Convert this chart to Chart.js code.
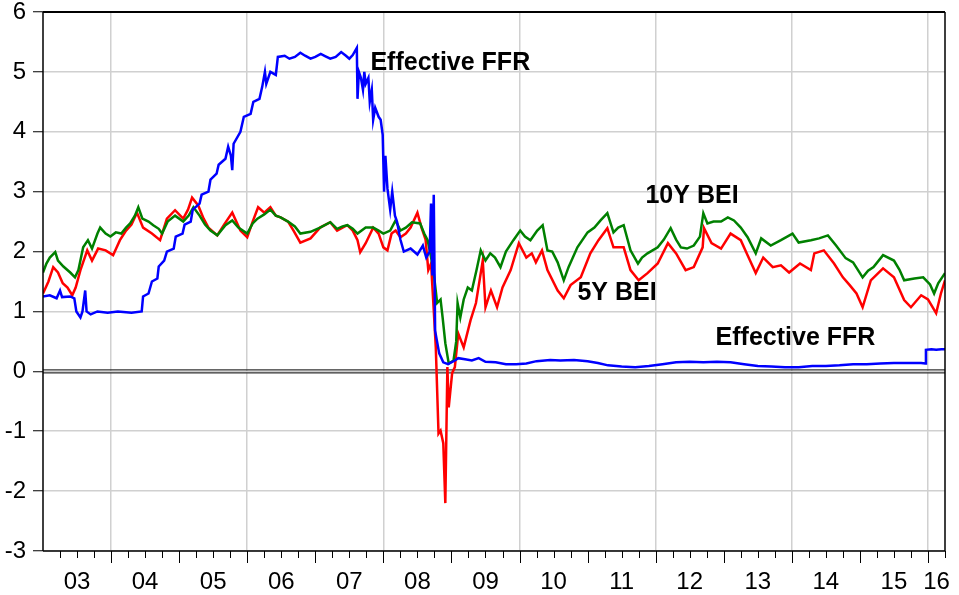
<!DOCTYPE html>
<html>
<head>
<meta charset="utf-8">
<script src="https://cdn.jsdelivr.net/npm/chart.js@4.4.1/dist/chart.umd.min.js"></script>
<style>
  html, body { margin: 0; padding: 0; background: #fff; }
  #wrap { width: 959px; height: 595px; position: relative; }
</style>
</head>
<body>
<div id="wrap"><canvas id="chart"></canvas></div>
<script>
// year labels under the x axis (centred on each year)
const yearLabels = ['03', '04', '05', '06', '07', '08', '09', '10', '11', '12', '13', '14', '15', '16'];
const firstYear = 2003;
const lastDate = 2016.25;

// effective fed funds rate, [decimal year, percent]
const ffr = [
    [2003.00, 1.25], [2003.10, 1.27], [2003.20, 1.22], [2003.25, 1.35], [2003.28, 1.24], [2003.40, 1.25],
    [2003.46, 1.22], [2003.49, 1.00], [2003.55, 0.90], [2003.58, 1.00], [2003.62, 1.35], [2003.64, 1.00],
    [2003.70, 0.95], [2003.80, 1.00], [2003.95, 0.98], [2004.10, 1.00], [2004.30, 0.98], [2004.45, 1.00],
    [2004.47, 1.25], [2004.55, 1.30], [2004.60, 1.50], [2004.68, 1.55], [2004.70, 1.75], [2004.78, 1.85],
    [2004.82, 2.00], [2004.92, 2.05], [2004.95, 2.25], [2005.05, 2.30], [2005.08, 2.45], [2005.17, 2.50],
    [2005.20, 2.70], [2005.30, 2.80], [2005.33, 2.95], [2005.43, 3.00], [2005.46, 3.20], [2005.55, 3.30],
    [2005.58, 3.45], [2005.68, 3.55], [2005.72, 3.75], [2005.76, 3.60], [2005.78, 3.36], [2005.80, 3.80],
    [2005.90, 4.00], [2005.95, 4.25], [2006.05, 4.30], [2006.09, 4.50], [2006.18, 4.55], [2006.22, 4.75],
    [2006.26, 5.00], [2006.28, 4.80], [2006.34, 5.00], [2006.42, 4.95], [2006.45, 5.25], [2006.55, 5.27],
    [2006.62, 5.22], [2006.70, 5.25], [2006.78, 5.32], [2006.85, 5.27], [2006.93, 5.22], [2007.00, 5.25],
    [2007.08, 5.30], [2007.15, 5.26], [2007.22, 5.22], [2007.30, 5.25], [2007.38, 5.33], [2007.45, 5.27],
    [2007.50, 5.22], [2007.55, 5.28], [2007.61, 5.40], [2007.62, 4.55], [2007.64, 5.00], [2007.67, 4.90],
    [2007.70, 4.70], [2007.72, 5.00], [2007.74, 4.80], [2007.78, 4.90], [2007.80, 4.50], [2007.83, 4.70],
    [2007.85, 4.20], [2007.88, 4.40], [2007.93, 4.25], [2007.96, 4.20], [2007.99, 3.95], [2008.01, 3.00],
    [2008.03, 3.60], [2008.06, 3.05], [2008.10, 2.70], [2008.13, 3.00], [2008.17, 2.60], [2008.20, 2.50],
    [2008.25, 2.20], [2008.30, 2.00], [2008.40, 2.05], [2008.50, 1.95], [2008.58, 2.10], [2008.63, 1.90],
    [2008.68, 2.00], [2008.70, 2.80], [2008.72, 1.60], [2008.74, 2.95], [2008.76, 0.68], [2008.78, 0.55],
    [2008.82, 0.30], [2008.88, 0.15], [2008.95, 0.12], [2009.05, 0.18], [2009.10, 0.22], [2009.20, 0.20],
    [2009.30, 0.18], [2009.40, 0.22], [2009.50, 0.16], [2009.65, 0.15], [2009.80, 0.12], [2009.95, 0.12],
    [2010.10, 0.13], [2010.25, 0.17], [2010.45, 0.19], [2010.60, 0.18], [2010.80, 0.19], [2011.00, 0.17],
    [2011.15, 0.14], [2011.30, 0.10], [2011.50, 0.08], [2011.70, 0.07], [2011.90, 0.09], [2012.10, 0.12],
    [2012.30, 0.15], [2012.50, 0.16], [2012.70, 0.15], [2012.90, 0.16], [2013.10, 0.15], [2013.30, 0.12],
    [2013.50, 0.09], [2013.70, 0.08], [2013.90, 0.07], [2014.10, 0.07], [2014.30, 0.09], [2014.50, 0.09],
    [2014.70, 0.10], [2014.90, 0.12], [2015.10, 0.12], [2015.30, 0.13], [2015.50, 0.14], [2015.70, 0.14],
    [2015.90, 0.14], [2015.96, 0.13], [2015.97, 0.36], [2016.05, 0.37], [2016.12, 0.36], [2016.20, 0.37],
    [2016.25, 0.37]
];

// 10 year breakeven inflation
const bei10 = [
    [2003.00, 1.65], [2003.05, 1.80], [2003.10, 1.90], [2003.18, 1.99], [2003.22, 1.85], [2003.30, 1.75],
    [2003.40, 1.65], [2003.47, 1.57], [2003.52, 1.69], [2003.59, 2.07], [2003.66, 2.19], [2003.72, 2.05],
    [2003.80, 2.30], [2003.84, 2.40], [2003.92, 2.30], [2003.99, 2.25], [2004.07, 2.32], [2004.15, 2.30],
    [2004.22, 2.40], [2004.28, 2.47], [2004.35, 2.60], [2004.40, 2.74], [2004.46, 2.55], [2004.55, 2.50],
    [2004.62, 2.44], [2004.70, 2.38], [2004.75, 2.30], [2004.83, 2.50], [2004.94, 2.60], [2005.06, 2.50],
    [2005.14, 2.60], [2005.21, 2.74], [2005.30, 2.60], [2005.38, 2.45], [2005.46, 2.35], [2005.56, 2.27],
    [2005.68, 2.44], [2005.78, 2.52], [2005.87, 2.40], [2006.00, 2.30], [2006.08, 2.47], [2006.15, 2.55],
    [2006.25, 2.62], [2006.34, 2.70], [2006.42, 2.60], [2006.49, 2.57], [2006.60, 2.50], [2006.70, 2.42],
    [2006.78, 2.30], [2006.93, 2.33], [2007.07, 2.40], [2007.22, 2.49], [2007.32, 2.38], [2007.40, 2.42],
    [2007.47, 2.44], [2007.55, 2.38], [2007.62, 2.30], [2007.74, 2.40], [2007.85, 2.40], [2007.93, 2.35],
    [2008.00, 2.30], [2008.10, 2.35], [2008.18, 2.52], [2008.25, 2.35], [2008.33, 2.40], [2008.42, 2.49],
    [2008.54, 2.47], [2008.60, 2.30], [2008.65, 2.19], [2008.69, 1.97], [2008.74, 1.64], [2008.79, 1.14],
    [2008.84, 1.20], [2008.87, 0.90], [2008.91, 0.47], [2008.96, 0.13], [2009.03, 0.18], [2009.07, 0.50],
    [2009.09, 1.14], [2009.13, 0.90], [2009.18, 1.20], [2009.24, 1.40], [2009.30, 1.35], [2009.37, 1.70],
    [2009.43, 2.02], [2009.50, 1.85], [2009.57, 1.97], [2009.64, 1.90], [2009.72, 1.74], [2009.80, 2.00],
    [2009.91, 2.19], [2010.01, 2.35], [2010.08, 2.25], [2010.16, 2.19], [2010.26, 2.35], [2010.34, 2.44],
    [2010.41, 2.02], [2010.48, 2.00], [2010.56, 1.82], [2010.65, 1.52], [2010.72, 1.74], [2010.85, 2.07],
    [2011.00, 2.32], [2011.10, 2.40], [2011.19, 2.52], [2011.29, 2.64], [2011.38, 2.32], [2011.45, 2.40],
    [2011.53, 2.44], [2011.63, 2.02], [2011.74, 1.80], [2011.80, 1.90], [2011.88, 1.97], [2012.03, 2.07],
    [2012.12, 2.20], [2012.22, 2.39], [2012.30, 2.20], [2012.37, 2.07], [2012.46, 2.05], [2012.56, 2.10],
    [2012.65, 2.25], [2012.70, 2.64], [2012.76, 2.47], [2012.85, 2.50], [2012.96, 2.50], [2013.06, 2.57],
    [2013.15, 2.52], [2013.25, 2.40], [2013.35, 2.24], [2013.47, 1.97], [2013.55, 2.22], [2013.69, 2.10],
    [2013.84, 2.19], [2014.01, 2.30], [2014.10, 2.15], [2014.28, 2.19], [2014.40, 2.22], [2014.53, 2.27],
    [2014.65, 2.10], [2014.79, 1.89], [2014.90, 1.82], [2015.04, 1.57], [2015.12, 1.68], [2015.20, 1.74],
    [2015.34, 1.94], [2015.50, 1.85], [2015.58, 1.70], [2015.65, 1.52], [2015.80, 1.55], [2015.93, 1.57],
    [2016.03, 1.45], [2016.09, 1.30], [2016.15, 1.47], [2016.25, 1.64]
];

// 5 year breakeven inflation
const bei5 = [
    [2003.00, 1.30], [2003.08, 1.50], [2003.15, 1.74], [2003.22, 1.65], [2003.29, 1.47], [2003.36, 1.40],
    [2003.43, 1.27], [2003.48, 1.40], [2003.55, 1.69], [2003.65, 2.02], [2003.72, 1.85], [2003.81, 2.05],
    [2003.92, 2.02], [2004.03, 1.94], [2004.13, 2.19], [2004.22, 2.35], [2004.30, 2.45], [2004.38, 2.65],
    [2004.47, 2.40], [2004.60, 2.30], [2004.72, 2.19], [2004.82, 2.55], [2004.94, 2.69], [2005.06, 2.55],
    [2005.13, 2.70], [2005.19, 2.90], [2005.28, 2.77], [2005.36, 2.55], [2005.43, 2.40], [2005.56, 2.27],
    [2005.66, 2.45], [2005.78, 2.65], [2005.90, 2.35], [2006.00, 2.24], [2006.08, 2.50], [2006.16, 2.74],
    [2006.25, 2.65], [2006.34, 2.74], [2006.42, 2.60], [2006.49, 2.57], [2006.60, 2.50], [2006.68, 2.35],
    [2006.78, 2.15], [2006.93, 2.22], [2007.07, 2.40], [2007.22, 2.49], [2007.32, 2.35], [2007.40, 2.40],
    [2007.47, 2.44], [2007.55, 2.35], [2007.62, 2.19], [2007.66, 1.99], [2007.74, 2.14], [2007.85, 2.40],
    [2007.93, 2.30], [2008.00, 2.07], [2008.06, 2.02], [2008.12, 2.30], [2008.18, 2.35], [2008.25, 2.24],
    [2008.33, 2.30], [2008.40, 2.40], [2008.50, 2.65], [2008.56, 2.40], [2008.62, 2.20], [2008.66, 1.69],
    [2008.70, 1.80], [2008.74, 1.02], [2008.77, 0.40], [2008.81, -1.04], [2008.84, -0.99], [2008.88, -1.20],
    [2008.91, -2.20], [2008.94, 0.07], [2008.96, -0.60], [2009.01, -0.03], [2009.05, 0.07], [2009.10, 0.63],
    [2009.18, 0.40], [2009.28, 0.85], [2009.36, 1.14], [2009.46, 1.85], [2009.50, 1.07], [2009.58, 1.35],
    [2009.67, 1.07], [2009.75, 1.40], [2009.87, 1.69], [2009.99, 2.14], [2010.10, 1.90], [2010.18, 1.97],
    [2010.24, 1.82], [2010.33, 2.02], [2010.41, 1.69], [2010.56, 1.35], [2010.65, 1.22], [2010.75, 1.44],
    [2010.90, 1.57], [2011.04, 1.97], [2011.16, 2.19], [2011.29, 2.39], [2011.38, 2.07], [2011.53, 2.07],
    [2011.63, 1.69], [2011.75, 1.52], [2011.88, 1.64], [2012.03, 1.80], [2012.18, 2.14], [2012.30, 1.97],
    [2012.44, 1.69], [2012.56, 1.74], [2012.69, 2.07], [2012.71, 2.39], [2012.82, 2.14], [2012.96, 2.05],
    [2013.10, 2.30], [2013.25, 2.19], [2013.35, 1.94], [2013.47, 1.64], [2013.58, 1.90], [2013.72, 1.74],
    [2013.84, 1.77], [2013.96, 1.65], [2014.12, 1.80], [2014.28, 1.69], [2014.33, 1.97], [2014.47, 2.02],
    [2014.62, 1.80], [2014.75, 1.57], [2014.85, 1.44], [2014.95, 1.30], [2015.04, 1.07], [2015.16, 1.52],
    [2015.34, 1.72], [2015.50, 1.57], [2015.65, 1.19], [2015.75, 1.07], [2015.90, 1.27], [2016.00, 1.20],
    [2016.12, 0.97], [2016.19, 1.30], [2016.25, 1.52]
];

// text labels drawn inside the plot
const seriesLabels = [
    { text: 'Effective FFR', x: 2007.81, y: 5.15 },
    { text: '10Y BEI', x: 2011.85, y: 2.92 },
    { text: '5Y BEI', x: 2010.85, y: 1.30 },
    { text: 'Effective FFR', x: 2012.88, y: 0.55 }
];

const toPoints = arr => arr.map(p => ({ x: p[0], y: p[1] }));
const FONT = '"Liberation Sans", Arial, Helvetica, sans-serif';

// zero line, frame, year ticks/labels and the series names
const eviewsStyle = {
    id: 'eviewsStyle',
    beforeDatasetsDraw(chart) {
        const { ctx, chartArea: a, scales: { y } } = chart;
        const y0 = y.getPixelForValue(0);
        ctx.save();
        ctx.strokeStyle = '#333';
        ctx.lineWidth = 1.2;
        [y0 - 1.5, y0 + 1.5].forEach(yy => {
            ctx.beginPath();
            ctx.moveTo(a.left, yy);
            ctx.lineTo(a.right, yy);
            ctx.stroke();
        });
        ctx.restore();
    },
    afterDraw(chart) {
        const { ctx, chartArea: a, scales: { x, y } } = chart;
        ctx.save();

        // frame
        ctx.strokeStyle = '#000';
        ctx.lineWidth = 2;
        ctx.beginPath();
        ctx.moveTo(a.left, a.top);
        ctx.lineTo(a.right, a.top);
        ctx.stroke();
        ctx.lineWidth = 1.5;
        ctx.beginPath();
        ctx.moveTo(a.right, a.top);
        ctx.lineTo(a.right, a.bottom);
        ctx.moveTo(a.left, a.bottom);
        ctx.lineTo(a.right, a.bottom);
        ctx.moveTo(a.left, a.top);
        ctx.lineTo(a.left, a.bottom);
        ctx.stroke();

        // quarterly ticks below the axis
        ctx.lineWidth = 1;
        for (let t = firstYear + 0.25; t <= lastDate + 1e-6; t += 0.25) {
            const px = Math.round(x.getPixelForValue(t)) + 0.5;
            const major = Math.abs(t - Math.round(t)) < 1e-6;
            ctx.beginPath();
            ctx.moveTo(px, a.bottom);
            ctx.lineTo(px, a.bottom + (major ? 12 : 7));
            ctx.stroke();
        }

        // year labels
        ctx.fillStyle = '#000';
        ctx.font = '24px ' + FONT;
        ctx.textAlign = 'center';
        ctx.textBaseline = 'middle';
        yearLabels.forEach((lab, i) => {
            const start = firstYear + i;
            const mid = (start + Math.min(start + 1, lastDate)) / 2;
            ctx.fillText(lab, x.getPixelForValue(mid), 582);
        });

        // series names
        ctx.font = 'bold 25px ' + FONT;
        ctx.textAlign = 'left';
        seriesLabels.forEach(l => {
            ctx.fillText(l.text, x.getPixelForValue(l.x), y.getPixelForValue(l.y));
        });
        ctx.restore();
    }
};

const chart = document.querySelector('#chart').getContext('2d');

new Chart(chart, {
    type: 'line',
    data: {
        datasets: [
            {
                label: 'Effective FFR',
                data: toPoints(ffr),
                borderColor: '#0000ff',
                borderWidth: 2.5,
                order: 1
            },
            {
                label: '10Y BEI',
                data: toPoints(bei10),
                borderColor: '#008000',
                borderWidth: 2.5,
                order: 2
            },
            {
                label: '5Y BEI',
                data: toPoints(bei5),
                borderColor: '#ff0000',
                borderWidth: 2.5,
                order: 3
            }
        ]
    },
    plugins: [eviewsStyle],
    options: {
        responsive: true,
        maintainAspectRatio: false,
        animation: false,
        elements: { point: { radius: 0 }, line: { tension: 0 } },
        layout: { padding: { top: 12, right: 14, bottom: 44, left: 0 } },
        plugins: {
            legend: { display: false },
            tooltip: { enabled: false }
        },
        scales: {
            x: {
                type: 'linear',
                min: firstYear,
                max: lastDate,
                afterBuildTicks: s => {
                    s.ticks = [];
                    for (let yr = firstYear; yr <= 2016; yr++) s.ticks.push({ value: yr });
                },
                afterFit: s => { s.height = 0; s.paddingLeft = 0; s.paddingRight = 0; },
                ticks: { display: false },
                grid: {
                    drawTicks: false,
                    lineWidth: 1.5,
                    color: c => (c.tick && c.tick.value % 2 === 0) ? '#d0d0d0' : 'rgba(0,0,0,0)'
                },
                border: { display: false }
            },
            y: {
                min: -3,
                max: 6,
                afterFit: s => { s.width = 43; s.paddingTop = 0; s.paddingBottom = 0; },
                ticks: {
                    stepSize: 1,
                    color: '#000',
                    padding: 7,
                    font: { family: FONT, size: 24 }
                },
                grid: {
                    color: '#d0d0d0',
                    lineWidth: 1.5,
                    tickColor: '#000',
                    tickLength: 10,
                    tickWidth: 1
                },
                border: { display: false }
            }
        }
    }
});
</script>
</body>
</html>
